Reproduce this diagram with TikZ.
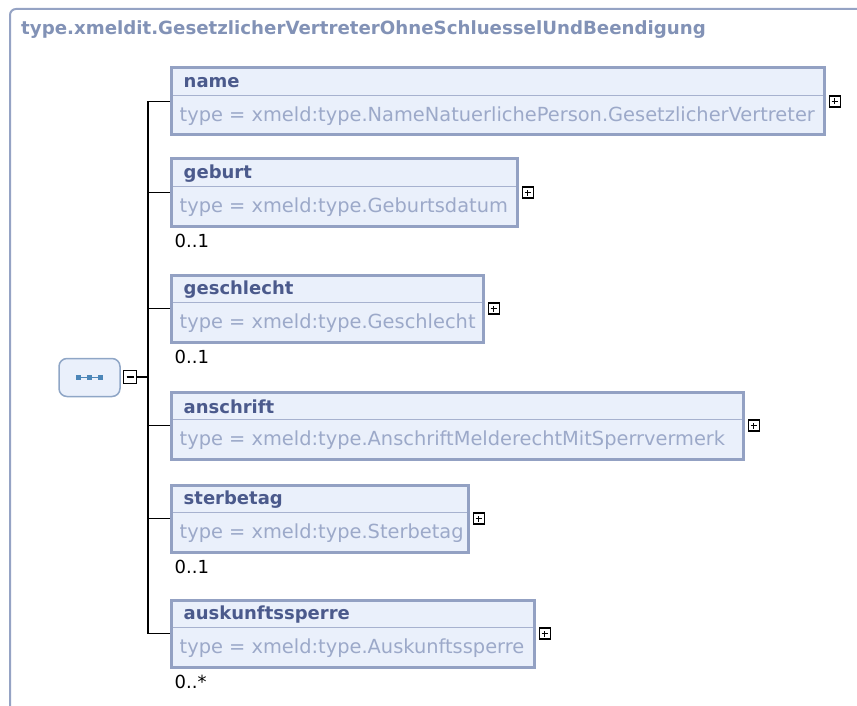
\documentclass[tikz,border=0pt]{standalone}
\usepackage{fontspec}
\setmainfont{DejaVu Sans}
\usetikzlibrary{positioning}

\definecolor{frameline}{HTML}{95A3C4}
\definecolor{frametext}{HTML}{8292B6}
\definecolor{boxline}{HTML}{93A1C3}
\definecolor{boxfill}{HTML}{EAF0FB}
\definecolor{sepline}{HTML}{A7B2CF}
\definecolor{titleblue}{HTML}{4B5A8C}
\definecolor{typegray}{HTML}{9CA9C9}
\definecolor{seqline}{HTML}{8FA6C6}
\definecolor{seqdot}{HTML}{4C86B8}

\tikzset{
  elbox/.style={draw=boxline, line width=3pt, fill=boxfill, anchor=north west,
    minimum height=67pt, inner sep=0pt},
  eltitle/.style={anchor=west, inner sep=0pt, text=titleblue,
    font=\bfseries\fontsize{18}{20}\selectfont},
  eltype/.style={anchor=west, inner sep=0pt, text=typegray,
    font=\fontsize{19.4}{22}\selectfont},
  card/.style={anchor=west, inner sep=0pt, font=\fontsize{18}{20}\selectfont},
  expander/.style={draw=black, line width=1.3pt, fill=white, minimum size=11pt,
    inner sep=0pt},
  plus/.style={expander, path picture={
    \draw[line width=1.3pt] (path picture bounding box.center)
      +(-3pt,0) -- +(3pt,0) +(0,-3pt) -- +(0,3pt);}},
  minus/.style={expander, minimum size=13pt, path picture={
    \draw[line width=1.3pt] (path picture bounding box.center)
      +(-3.5pt,0) -- +(3.5pt,0);}},
  conn/.style={line width=1.3pt}
}

\begin{document}
\begin{tikzpicture}[x=1pt, y=-1pt]
    \useasboundingbox (0,0) rectangle (857,706);

    % Outer frame of the complex type
    \draw[frameline, line width=2pt, rounded corners=6pt] (10,712) -- (10,9) -- (862,9);
    \node[anchor=west, inner sep=0pt, text=frametext, font=\bfseries\fontsize{18.2}{20}\selectfont]
        (ftitle) at (21,30) {type.xmeldit.GesetzlicherVertreterOhneSchluesselUndBeendigung};

    % Sequence compositor
    \node[draw=seqline, line width=1.5pt, fill=boxfill, rounded corners=8pt,
        minimum width=61pt, minimum height=38pt] (seq) at (89.5,377.5) {};
    \draw[seqdot, line width=0.8pt] ([xshift=-11pt]seq.center) -- ([xshift=11pt]seq.center);
    \fill[seqdot] ([xshift=-11pt]seq.center) +(-2.3pt,-2.3pt) rectangle +(2.3pt,2.3pt);
    \fill[seqdot] (seq.center) +(-2.3pt,-2.3pt) rectangle +(2.3pt,2.3pt);
    \fill[seqdot] ([xshift=11pt]seq.center) +(-2.3pt,-2.3pt) rectangle +(2.3pt,2.3pt);
    \node[minus] (seq-x) at (130,377) {};
    \coordinate (bus) at (148,377);
    \draw[conn] (seq-x.east) -- (bus);

    % name
    \node[elbox, minimum width=653pt] (name) at (169.5,66.5) {};
    \draw[sepline, line width=1.5pt] ([xshift=3pt,yshift=-29pt]name.north west) -- ([xshift=-3pt,yshift=-29pt]name.north east);
    \node[eltitle] (name-t) at ([xshift=14pt,yshift=-16pt]name.north west) {name};
    \node[eltype] (name-y) at ([xshift=10pt,yshift=-50pt]name.north west) {type = xmeld:type.NameNatuerlichePerson.GesetzlicherVertreter};
    \node[plus, right=3pt of name] (name-x) {};

    % geburt
    \node[elbox, minimum width=346pt] (geburt) at (169.5,157.5) {};
    \draw[sepline, line width=1.5pt] ([xshift=3pt,yshift=-29pt]geburt.north west) -- ([xshift=-3pt,yshift=-29pt]geburt.north east);
    \node[eltitle] (geburt-t) at ([xshift=14pt,yshift=-16pt]geburt.north west) {geburt};
    \node[eltype] (geburt-y) at ([xshift=10pt,yshift=-50pt]geburt.north west) {type = xmeld:type.Geburtsdatum};
    \node[plus, right=3pt of geburt] (geburt-x) {};
    \node[card] (geburt-c) at ([xshift=5pt,yshift=-13pt]geburt.south west) {0..1};

    % geschlecht
    \node[elbox, minimum width=312pt] (geschlecht) at (169.5,273.5) {};
    \draw[sepline, line width=1.5pt] ([xshift=3pt,yshift=-29pt]geschlecht.north west) -- ([xshift=-3pt,yshift=-29pt]geschlecht.north east);
    \node[eltitle] (geschlecht-t) at ([xshift=14pt,yshift=-16pt]geschlecht.north west) {geschlecht};
    \node[eltype] (geschlecht-y) at ([xshift=10pt,yshift=-50pt]geschlecht.north west) {type = xmeld:type.Geschlecht};
    \node[plus, right=3pt of geschlecht] (geschlecht-x) {};
    \node[card] (geschlecht-c) at ([xshift=5pt,yshift=-13pt]geschlecht.south west) {0..1};

    % anschrift
    \node[elbox, minimum width=572pt] (anschrift) at (169.5,390.5) {};
    \draw[sepline, line width=1.5pt] ([xshift=3pt,yshift=-29pt]anschrift.north west) -- ([xshift=-3pt,yshift=-29pt]anschrift.north east);
    \node[eltitle] (anschrift-t) at ([xshift=14pt,yshift=-16pt]anschrift.north west) {anschrift};
    \node[eltype] (anschrift-y) at ([xshift=10pt,yshift=-50pt]anschrift.north west) {type = xmeld:type.AnschriftMelderechtMitSperrvermerk};
    \node[plus, right=3pt of anschrift] (anschrift-x) {};

    % sterbetag
    \node[elbox, minimum width=297pt] (sterbetag) at (169.5,483.5) {};
    \draw[sepline, line width=1.5pt] ([xshift=3pt,yshift=-29pt]sterbetag.north west) -- ([xshift=-3pt,yshift=-29pt]sterbetag.north east);
    \node[eltitle] (sterbetag-t) at ([xshift=14pt,yshift=-16pt]sterbetag.north west) {sterbetag};
    \node[eltype] (sterbetag-y) at ([xshift=10pt,yshift=-50pt]sterbetag.north west) {type = xmeld:type.Sterbetag};
    \node[plus, right=3pt of sterbetag] (sterbetag-x) {};
    \node[card] (sterbetag-c) at ([xshift=5pt,yshift=-13pt]sterbetag.south west) {0..1};

    % auskunftssperre
    \node[elbox, minimum width=363pt] (auskunft) at (169.5,598.5) {};
    \draw[sepline, line width=1.5pt] ([xshift=3pt,yshift=-29pt]auskunft.north west) -- ([xshift=-3pt,yshift=-29pt]auskunft.north east);
    \node[eltitle] (auskunft-t) at ([xshift=14pt,yshift=-16pt]auskunft.north west) {auskunftssperre};
    \node[eltype] (auskunft-y) at ([xshift=10pt,yshift=-50pt]auskunft.north west) {type = xmeld:type.Auskunftssperre};
    \node[plus, right=3pt of auskunft] (auskunft-x) {};
    \node[card] (auskunft-c) at ([xshift=5pt,yshift=-13pt]auskunft.south west) {0..*};

    % Connectors from the sequence to the elements
    \draw[conn] (bus) |- (name.west);
    \draw[conn] (bus) |- (geburt.west);
    \draw[conn] (bus) |- (geschlecht.west);
    \draw[conn] (bus) |- (anschrift.west);
    \draw[conn] (bus) |- (sterbetag.west);
    \draw[conn] (bus) |- (auskunft.west);
\end{tikzpicture}
\end{document}
